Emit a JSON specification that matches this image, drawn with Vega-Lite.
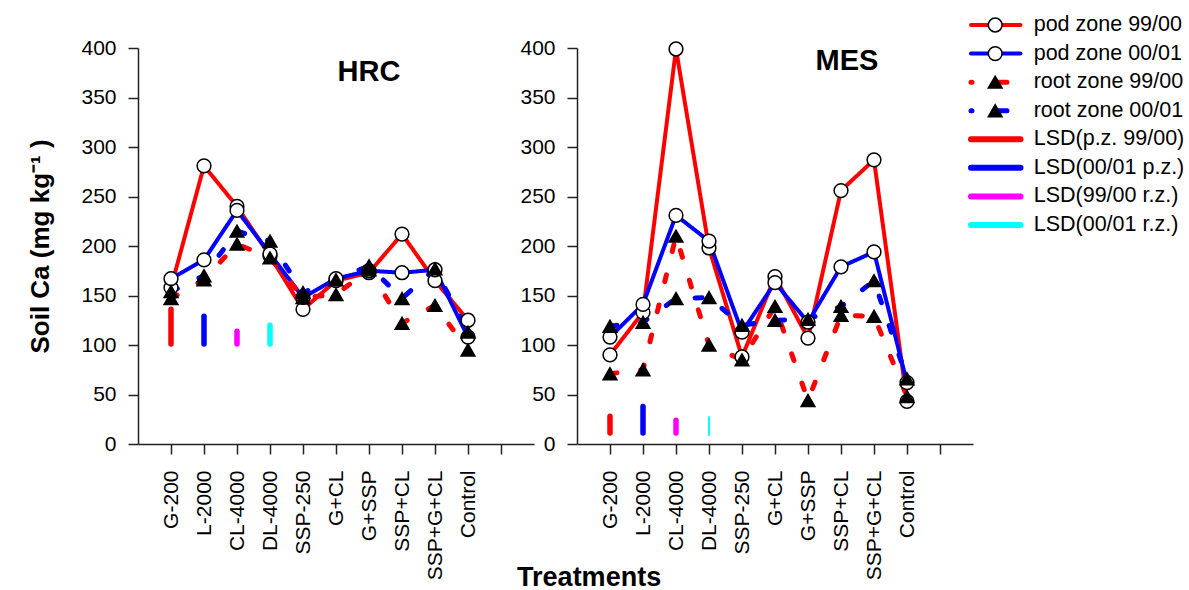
{
  "$schema": "https://vega.github.io/schema/vega-lite/v6.json",
  "background": "white",
  "padding": {"left": 27, "top": 14, "right": 0, "bottom": 0},
  "bounds": "flush",
  "spacing": 43,
  "title": {"text": "Treatments", "orient": "bottom", "anchor": "middle", "fontSize": 27, "fontWeight": "bold", "font": "Liberation Sans", "color": "black", "offset": -15, "dx": -17},
  "datasets": {
    "main": [
      {"site":"HRC","series":"pod zone 99/00","treatment":"G-200","value":158},
      {"site":"HRC","series":"pod zone 99/00","treatment":"L-2000","value":281},
      {"site":"HRC","series":"pod zone 99/00","treatment":"CL-4000","value":240},
      {"site":"HRC","series":"pod zone 99/00","treatment":"DL-4000","value":190},
      {"site":"HRC","series":"pod zone 99/00","treatment":"SSP-250","value":136},
      {"site":"HRC","series":"pod zone 99/00","treatment":"G+CL","value":165},
      {"site":"HRC","series":"pod zone 99/00","treatment":"G+SSP","value":173},
      {"site":"HRC","series":"pod zone 99/00","treatment":"SSP+CL","value":212},
      {"site":"HRC","series":"pod zone 99/00","treatment":"SSP+G+CL","value":165},
      {"site":"HRC","series":"pod zone 99/00","treatment":"Control","value":125},
      {"site":"HRC","series":"pod zone 00/01","treatment":"G-200","value":167},
      {"site":"HRC","series":"pod zone 00/01","treatment":"L-2000","value":186},
      {"site":"HRC","series":"pod zone 00/01","treatment":"CL-4000","value":236},
      {"site":"HRC","series":"pod zone 00/01","treatment":"DL-4000","value":192},
      {"site":"HRC","series":"pod zone 00/01","treatment":"SSP-250","value":148},
      {"site":"HRC","series":"pod zone 00/01","treatment":"G+CL","value":167},
      {"site":"HRC","series":"pod zone 00/01","treatment":"G+SSP","value":175},
      {"site":"HRC","series":"pod zone 00/01","treatment":"SSP+CL","value":173},
      {"site":"HRC","series":"pod zone 00/01","treatment":"SSP+G+CL","value":176},
      {"site":"HRC","series":"pod zone 00/01","treatment":"Control","value":108},
      {"site":"HRC","series":"root zone 99/00","treatment":"G-200","value":147},
      {"site":"HRC","series":"root zone 99/00","treatment":"L-2000","value":166},
      {"site":"HRC","series":"root zone 99/00","treatment":"CL-4000","value":202},
      {"site":"HRC","series":"root zone 99/00","treatment":"DL-4000","value":188},
      {"site":"HRC","series":"root zone 99/00","treatment":"SSP-250","value":148},
      {"site":"HRC","series":"root zone 99/00","treatment":"G+CL","value":151},
      {"site":"HRC","series":"root zone 99/00","treatment":"G+SSP","value":176},
      {"site":"HRC","series":"root zone 99/00","treatment":"SSP+CL","value":122},
      {"site":"HRC","series":"root zone 99/00","treatment":"SSP+G+CL","value":140},
      {"site":"HRC","series":"root zone 99/00","treatment":"Control","value":95},
      {"site":"HRC","series":"root zone 00/01","treatment":"G-200","value":154},
      {"site":"HRC","series":"root zone 00/01","treatment":"L-2000","value":170},
      {"site":"HRC","series":"root zone 00/01","treatment":"CL-4000","value":215},
      {"site":"HRC","series":"root zone 00/01","treatment":"DL-4000","value":205},
      {"site":"HRC","series":"root zone 00/01","treatment":"SSP-250","value":153},
      {"site":"HRC","series":"root zone 00/01","treatment":"G+CL","value":166},
      {"site":"HRC","series":"root zone 00/01","treatment":"G+SSP","value":180},
      {"site":"HRC","series":"root zone 00/01","treatment":"SSP+CL","value":147},
      {"site":"HRC","series":"root zone 00/01","treatment":"SSP+G+CL","value":177},
      {"site":"HRC","series":"root zone 00/01","treatment":"Control","value":113},
      {"site":"MES","series":"pod zone 99/00","treatment":"G-200","value":90},
      {"site":"MES","series":"pod zone 99/00","treatment":"L-2000","value":133},
      {"site":"MES","series":"pod zone 99/00","treatment":"CL-4000","value":399},
      {"site":"MES","series":"pod zone 99/00","treatment":"DL-4000","value":198},
      {"site":"MES","series":"pod zone 99/00","treatment":"SSP-250","value":88},
      {"site":"MES","series":"pod zone 99/00","treatment":"G+CL","value":169},
      {"site":"MES","series":"pod zone 99/00","treatment":"G+SSP","value":107},
      {"site":"MES","series":"pod zone 99/00","treatment":"SSP+CL","value":256},
      {"site":"MES","series":"pod zone 99/00","treatment":"SSP+G+CL","value":287},
      {"site":"MES","series":"pod zone 99/00","treatment":"Control","value":43},
      {"site":"MES","series":"pod zone 00/01","treatment":"G-200","value":108},
      {"site":"MES","series":"pod zone 00/01","treatment":"L-2000","value":141},
      {"site":"MES","series":"pod zone 00/01","treatment":"CL-4000","value":231},
      {"site":"MES","series":"pod zone 00/01","treatment":"DL-4000","value":205},
      {"site":"MES","series":"pod zone 00/01","treatment":"SSP-250","value":113},
      {"site":"MES","series":"pod zone 00/01","treatment":"G+CL","value":163},
      {"site":"MES","series":"pod zone 00/01","treatment":"G+SSP","value":123},
      {"site":"MES","series":"pod zone 00/01","treatment":"SSP+CL","value":179},
      {"site":"MES","series":"pod zone 00/01","treatment":"SSP+G+CL","value":194},
      {"site":"MES","series":"pod zone 00/01","treatment":"Control","value":62},
      {"site":"MES","series":"root zone 99/00","treatment":"G-200","value":71},
      {"site":"MES","series":"root zone 99/00","treatment":"L-2000","value":75},
      {"site":"MES","series":"root zone 99/00","treatment":"CL-4000","value":210},
      {"site":"MES","series":"root zone 99/00","treatment":"DL-4000","value":100},
      {"site":"MES","series":"root zone 99/00","treatment":"SSP-250","value":85},
      {"site":"MES","series":"root zone 99/00","treatment":"G+CL","value":139},
      {"site":"MES","series":"root zone 99/00","treatment":"G+SSP","value":44},
      {"site":"MES","series":"root zone 99/00","treatment":"SSP+CL","value":130},
      {"site":"MES","series":"root zone 99/00","treatment":"SSP+G+CL","value":129},
      {"site":"MES","series":"root zone 99/00","treatment":"Control","value":48},
      {"site":"MES","series":"root zone 00/01","treatment":"G-200","value":119},
      {"site":"MES","series":"root zone 00/01","treatment":"L-2000","value":123},
      {"site":"MES","series":"root zone 00/01","treatment":"CL-4000","value":147},
      {"site":"MES","series":"root zone 00/01","treatment":"DL-4000","value":148},
      {"site":"MES","series":"root zone 00/01","treatment":"SSP-250","value":120},
      {"site":"MES","series":"root zone 00/01","treatment":"G+CL","value":125},
      {"site":"MES","series":"root zone 00/01","treatment":"G+SSP","value":126},
      {"site":"MES","series":"root zone 00/01","treatment":"SSP+CL","value":139},
      {"site":"MES","series":"root zone 00/01","treatment":"SSP+G+CL","value":165},
      {"site":"MES","series":"root zone 00/01","treatment":"Control","value":66}
    ],
    "lsd": [
      {"site":"HRC","series":"LSD(p.z. 99/00)","treatment":"G-200","low":101,"high":136},
      {"site":"HRC","series":"LSD(00/01 p.z.)","treatment":"L-2000","low":101,"high":129},
      {"site":"HRC","series":"LSD(99/00 r.z.)","treatment":"CL-4000","low":101,"high":114},
      {"site":"HRC","series":"LSD(00/01 r.z.)","treatment":"DL-4000","low":101,"high":120},
      {"site":"MES","series":"LSD(p.z. 99/00)","treatment":"G-200","low":11,"high":28},
      {"site":"MES","series":"LSD(00/01 p.z.)","treatment":"L-2000","low":11,"high":38},
      {"site":"MES","series":"LSD(99/00 r.z.)","treatment":"CL-4000","low":11,"high":24},
      {"site":"MES","series":"LSD(00/01 r.z.)","treatment":"DL-4000","low":9,"high":27}
    ],
    "legend": [
      {"series":"pod zone 99/00"},
      {"series":"pod zone 00/01"},
      {"series":"root zone 99/00"},
      {"series":"root zone 00/01"},
      {"series":"LSD(p.z. 99/00)"},
      {"series":"LSD(00/01 p.z.)"},
      {"series":"LSD(99/00 r.z.)"},
      {"series":"LSD(00/01 r.z.)"}
    ]
  },
  "hconcat": [
    {
      "width": 396,
      "height": 396,
      "layer": [
        {
          "data": {"name": "main"},
          "transform": [{"filter": "datum.site == 'HRC'"}],
          "mark": {"type": "line", "strokeCap": "round", "strokeJoin": "round"},
          "encoding": {
            "x": {"field": "treatment", "type": "ordinal", "scale": {"type": "point", "domain": ["G-200","L-2000","CL-4000","DL-4000","SSP-250","G+CL","G+SSP","SSP+CL","SSP+G+CL","Control","_"], "padding": 1}, "axis": {"title": null, "labelAngle": 270, "labelPadding": 16, "labelOverlap": false, "labelExpr": "datum.value == '_' ? '' : datum.value"}},
            "y": {"field": "value", "type": "quantitative", "scale": {"domain": [0, 400], "nice": false}, "axis": {"values": [0,50,100,150,200,250,300,350,400], "title": "Soil Ca (mg kg⁻¹ )", "titleFontSize": 26, "titleFontWeight": "bold", "titlePadding": 27, "labelPadding": 12}},
            "color": {"field": "series", "type": "nominal", "scale": {"domain": ["pod zone 99/00","pod zone 00/01","root zone 99/00","root zone 00/01","LSD(p.z. 99/00)","LSD(00/01 p.z.)","LSD(99/00 r.z.)","LSD(00/01 r.z.)"], "range": ["#FF0000","#0000FF","#FF0000","#0000FF","#FF0000","#0000FF","#FF00FF","#00FFFF"]}, "legend": null},
            "strokeDash": {"field": "series", "type": "nominal", "scale": {"domain": ["pod zone 99/00","pod zone 00/01","root zone 99/00","root zone 00/01","LSD(p.z. 99/00)","LSD(00/01 p.z.)","LSD(99/00 r.z.)","LSD(00/01 r.z.)"], "range": [[1,0],[1,0],[7,24],[7,24],[1,0],[1,0],[1,0],[1,0]]}, "legend": null},
            "strokeWidth": {"condition": {"test": "indexof(datum.series, 'root') == 0", "value": 5}, "value": 4},
            "order": {"value": null}
          }
        },
        {
          "data": {"name": "main"},
          "transform": [{"filter": "datum.site == 'HRC'"}],
          "mark": {"type": "point", "filled": true, "size": 190, "stroke": "black", "strokeWidth": 1.5, "opacity": 1},
          "encoding": {
            "x": {"field": "treatment", "type": "ordinal"},
            "y": {"field": "value", "type": "quantitative"},
            "shape": {"field": "series", "type": "nominal", "scale": {"domain": ["pod zone 99/00","pod zone 00/01","root zone 99/00","root zone 00/01"], "range": ["circle","circle","triangle-up","triangle-up"]}, "legend": null},
            "fill": {"field": "series", "type": "nominal", "scale": {"domain": ["pod zone 99/00","pod zone 00/01","root zone 99/00","root zone 00/01"], "range": ["white","white","black","black"]}, "legend": null}
          }
        },
        {
          "data": {"name": "lsd"},
          "transform": [{"filter": "datum.site == 'HRC'"}],
          "mark": {"type": "rule", "strokeCap": "round"},
          "encoding": {
            "x": {"field": "treatment", "type": "ordinal"},
            "y": {"field": "low", "type": "quantitative"},
            "y2": {"field": "high"},
            "color": {"field": "series", "type": "nominal", "legend": null},
            "strokeWidth": {"value": 5.5}
          }
        },
        {
          "data": {"values": [{}]},
          "mark": {"type": "text", "text": "HRC", "fontSize": 29, "fontWeight": "bold", "color": "black", "align": "center", "baseline": "middle"},
          "encoding": {
            "x": {"datum": "G+SSP", "type": "ordinal"},
            "y": {"datum": 376, "type": "quantitative"}
          }
        }
      ]
    },
    {
      "width": 396,
      "height": 396,
      "layer": [
        {
          "layer": [
            {
              "data": {"name": "main"},
              "transform": [{"filter": "datum.site == 'MES'"}],
              "mark": {"type": "line", "strokeCap": "round", "strokeJoin": "round"},
              "encoding": {
                "x": {"field": "treatment", "type": "ordinal", "scale": {"type": "point", "domain": ["G-200","L-2000","CL-4000","DL-4000","SSP-250","G+CL","G+SSP","SSP+CL","SSP+G+CL","Control","_"], "padding": 1}, "axis": {"title": null, "labelAngle": 270, "labelPadding": 16, "labelOverlap": false, "labelExpr": "datum.value == '_' ? '' : datum.value"}},
                "y": {"field": "value", "type": "quantitative", "scale": {"domain": [0, 400], "nice": false}, "axis": {"values": [0,50,100,150,200,250,300,350,400], "title": null, "labelPadding": 12}},
                "color": {"field": "series", "type": "nominal", "legend": null},
                "strokeDash": {"field": "series", "type": "nominal", "legend": null},
                "strokeWidth": {"condition": {"test": "indexof(datum.series, 'root') == 0", "value": 5}, "value": 4},
                "order": {"value": null}
              }
            },
            {
              "data": {"name": "main"},
              "transform": [{"filter": "datum.site == 'MES'"}],
              "mark": {"type": "point", "filled": true, "size": 190, "stroke": "black", "strokeWidth": 1.5, "opacity": 1},
              "encoding": {
                "x": {"field": "treatment", "type": "ordinal"},
                "y": {"field": "value", "type": "quantitative"},
                "shape": {"field": "series", "type": "nominal", "legend": null},
                "fill": {"field": "series", "type": "nominal", "legend": null}
              }
            },
            {
              "data": {"name": "lsd"},
              "transform": [{"filter": "datum.site == 'MES'"}],
              "mark": {"type": "rule", "strokeCap": "round"},
              "encoding": {
                "x": {"field": "treatment", "type": "ordinal"},
                "y": {"field": "low", "type": "quantitative"},
                "y2": {"field": "high"},
                "color": {"field": "series", "type": "nominal", "legend": null},
                "strokeWidth": {"condition": {"test": "datum.series == 'LSD(00/01 r.z.)'", "value": 2}, "value": 5.5}
              }
            },
            {
              "data": {"values": [{}]},
              "mark": {"type": "text", "text": "MES", "fontSize": 29, "fontWeight": "bold", "color": "black", "align": "center", "baseline": "middle", "dx": 6},
              "encoding": {
                "x": {"datum": "SSP+CL", "type": "ordinal"},
                "y": {"datum": 387, "type": "quantitative"}
              }
            }
          ]
        },
        {
          "data": {"name": "legend"},
          "layer": [
            {
              "transform": [{"filter": "indexof(datum.series, 'root') != 0"}],
              "mark": {"type": "rule", "strokeCap": "round"},
              "encoding": {
                "x": {"datum": 0, "type": "quantitative", "scale": {"domain": [0, 10], "range": [394, 614], "nice": false, "zero": false}, "axis": null},
                "x2": {"datum": 2.25},
                "y": {"field": "series", "type": "nominal", "scale": {"type": "point", "domain": ["pod zone 99/00","pod zone 00/01","root zone 99/00","root zone 00/01","LSD(p.z. 99/00)","LSD(00/01 p.z.)","LSD(99/00 r.z.)","LSD(00/01 r.z.)"], "range": [-23, 177], "padding": 0}, "axis": null},
                "color": {"field": "series", "type": "nominal", "legend": null},
                "strokeWidth": {"condition": {"test": "indexof(datum.series, 'LSD') == 0", "value": 6}, "value": 4}
              }
            },
            {
              "transform": [{"filter": "indexof(datum.series, 'root') == 0"}],
              "mark": {"type": "rule", "strokeCap": "round", "strokeWidth": 5, "strokeDash": [11, 24], "strokeDashOffset": 10},
              "encoding": {
                "x": {"datum": 0, "type": "quantitative"},
                "x2": {"datum": 2.25},
                "y": {"field": "series", "type": "nominal"},
                "color": {"field": "series", "type": "nominal", "legend": null}
              }
            },
            {
              "transform": [{"filter": "indexof(datum.series, 'LSD') != 0"}],
              "mark": {"type": "point", "filled": true, "size": 190, "stroke": "black", "strokeWidth": 1.5, "opacity": 1},
              "encoding": {
                "x": {"datum": 1.1, "type": "quantitative"},
                "y": {"field": "series", "type": "nominal"},
                "shape": {"field": "series", "type": "nominal", "legend": null},
                "fill": {"field": "series", "type": "nominal", "legend": null}
              }
            },
            {
              "mark": {"type": "text", "align": "left", "baseline": "middle", "fontSize": 21.5, "color": "black"},
              "encoding": {
                "x": {"datum": 2.85, "type": "quantitative"},
                "y": {"field": "series", "type": "nominal"},
                "text": {"field": "series"}
              }
            }
          ]
        }
      ],
      "resolve": {"scale": {"x": "independent", "y": "independent"}}
    }
  ],
  "config": {
    "font": "Liberation Sans",
    "view": {"stroke": null},
    "axis": {"domainColor": "#222222", "domainWidth": 1.5, "tickColor": "#222222", "tickWidth": 1.5, "tickSize": 10, "labelFontSize": 21, "labelColor": "black", "grid": false, "labelFont": "Liberation Sans", "titleFont": "Liberation Sans", "titleColor": "black"}
  }
}
